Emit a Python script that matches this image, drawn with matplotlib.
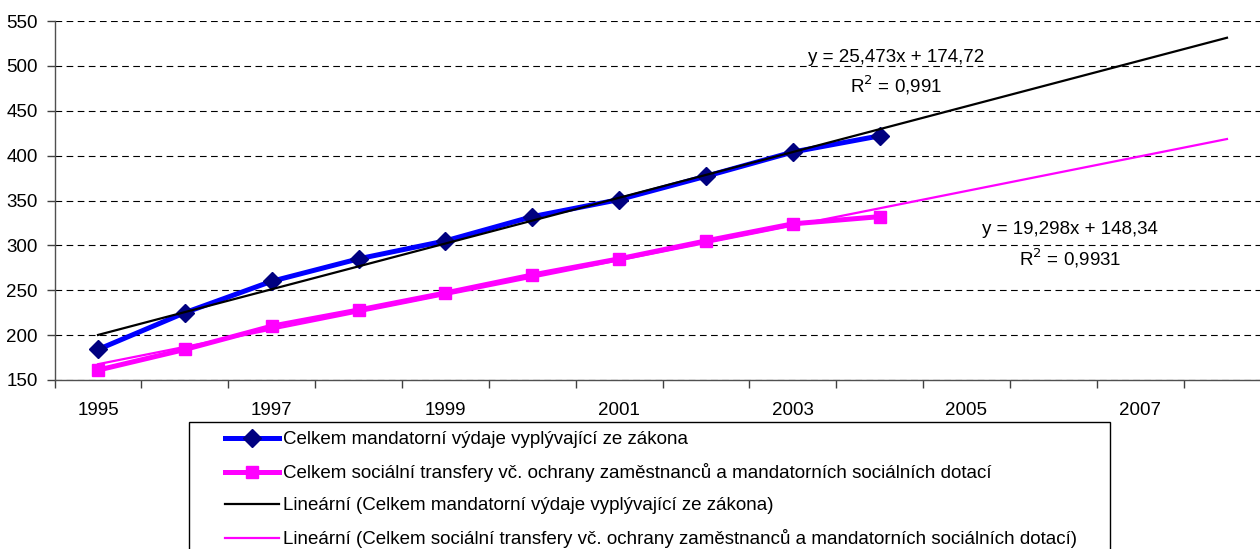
import matplotlib
matplotlib.use("Agg")
import matplotlib.pyplot as plt
import numpy as np
from matplotlib.patches import Rectangle
from matplotlib.lines import Line2D

plt.rcParams['font.family'] = ['Liberation Sans', 'DejaVu Sans']

# ---- data ----
years = [1995, 1996, 1997, 1998, 1999, 2000, 2001, 2002, 2003, 2004]
axis_years = list(range(1995, 2009))
mandatory = [184, 225, 260, 285, 305, 332, 351, 377, 404, 422]
social = [161, 184, 210, 228, 247, 267, 285, 305, 324, 332]
trend_mand = (25.473, 174.72)
trend_soc = (19.298, 148.34)
r2_mand = "0,991"
r2_soc = "0,9931"
labels = [
    "Celkem mandatorní výdaje vyplývající ze zákona",
    "Celkem sociální transfery vč. ochrany zaměstnanců a mandatorních sociálních dotací",
    "Lineární (Celkem mandatorní výdaje vyplývající ze zákona)",
    "Lineární (Celkem sociální transfery vč. ochrany zaměstnanců a mandatorních sociálních dotací)",
]
yticks = [150, 200, 250, 300, 350, 400, 450, 500, 550]

FS = 13.5
W, H = 1260, 549
fig = plt.figure(figsize=(W / 100, H / 100), dpi=100)

def fx(px):
    return px / W

def fy(py):
    return 1 - py / H

ax_left, ax_right, ax_top, ax_bottom = 54.6, 1270.4, 21, 380
ax = fig.add_axes([fx(ax_left), fy(ax_bottom), fx(ax_right - ax_left), (ax_bottom - ax_top) / H])

xi = np.arange(1, len(years) + 1)
xt = np.arange(1, len(axis_years) + 1)

ax.plot(xi, mandatory, color='#0000FF', lw=3.6, marker='D', ms=9,
        mfc='#000080', mec='#000080', zorder=3, solid_joinstyle='round')
ax.plot(xi, social, color='#FF00FF', lw=3.6, marker='s', ms=9,
        mfc='#FF00FF', mec='#FF00FF', zorder=3)
ax.plot(xt, trend_mand[0] * xt + trend_mand[1], color='black', lw=1.6, zorder=4)
ax.plot(xt, trend_soc[0] * xt + trend_soc[1], color='#FF00FF', lw=1.6, zorder=4)

ax.set_xlim(0.5, len(axis_years) + 0.5)
ax.set_ylim(150, 550)
ax.set_yticks(yticks)
ax.set_yticklabels([str(v) for v in yticks])
ax.yaxis.grid(True, color='black', lw=0.8, linestyle=(0, (6, 4)))
ax.set_axisbelow(True)

# category boundaries as major ticks, labels on minor ticks at every other category
ax.set_xticks(np.arange(0.5, len(axis_years) + 1, 1.0))
ax.set_xticklabels([])
ax.set_xticks(xt[::2], minor=True)
ax.set_xticklabels([str(y) for y in axis_years[::2]], minor=True)
ax.tick_params(axis='x', which='minor', length=0, pad=16, labelsize=FS)
ax.tick_params(axis='x', which='major', length=6, width=1, color='#404040', direction='out')
ax.tick_params(axis='y', length=6, width=1, color='#404040', direction='out', pad=6, labelsize=FS)

for s in ['top', 'right']:
    ax.spines[s].set_visible(False)
for s in ['left', 'bottom']:
    ax.spines[s].set_color('#505050')
    ax.spines[s].set_linewidth(1.0)

# equation annotations
fig.text(fx(896), fy(58), "y = 25,473x + 174,72", ha='center', va='center', fontsize=FS)
fig.text(fx(896), fy(85), "R$^{2}$ = " + r2_mand, ha='center', va='center', fontsize=FS)
fig.text(fx(1070), fy(230), "y = 19,298x + 148,34", ha='center', va='center', fontsize=FS)
fig.text(fx(1070), fy(258), "R$^{2}$ = " + r2_soc, ha='center', va='center', fontsize=FS)

# legend box
fig.add_artist(Rectangle((fx(189), fy(560)), fx(1110 - 189), (560 - 422) / H,
                         transform=fig.transFigure, fill=False, ec='black', lw=1.0))
handles = [
    Line2D([], [], color='#0000FF', lw=3.6, marker='D', ms=9, mfc='#000080', mec='#000080'),
    Line2D([], [], color='#FF00FF', lw=3.6, marker='s', ms=9, mfc='#FF00FF', mec='#FF00FF'),
    Line2D([], [], color='black', lw=1.6),
    Line2D([], [], color='#FF00FF', lw=1.6),
]
fig.legend(handles, labels, loc='upper left', bbox_to_anchor=(fx(225), fy(431)),
           frameon=False, fontsize=FS, handlelength=2.9, handletextpad=0.2,
           labelspacing=0.8, borderpad=0, borderaxespad=0)

fig.savefig("out.png", dpi=100)
